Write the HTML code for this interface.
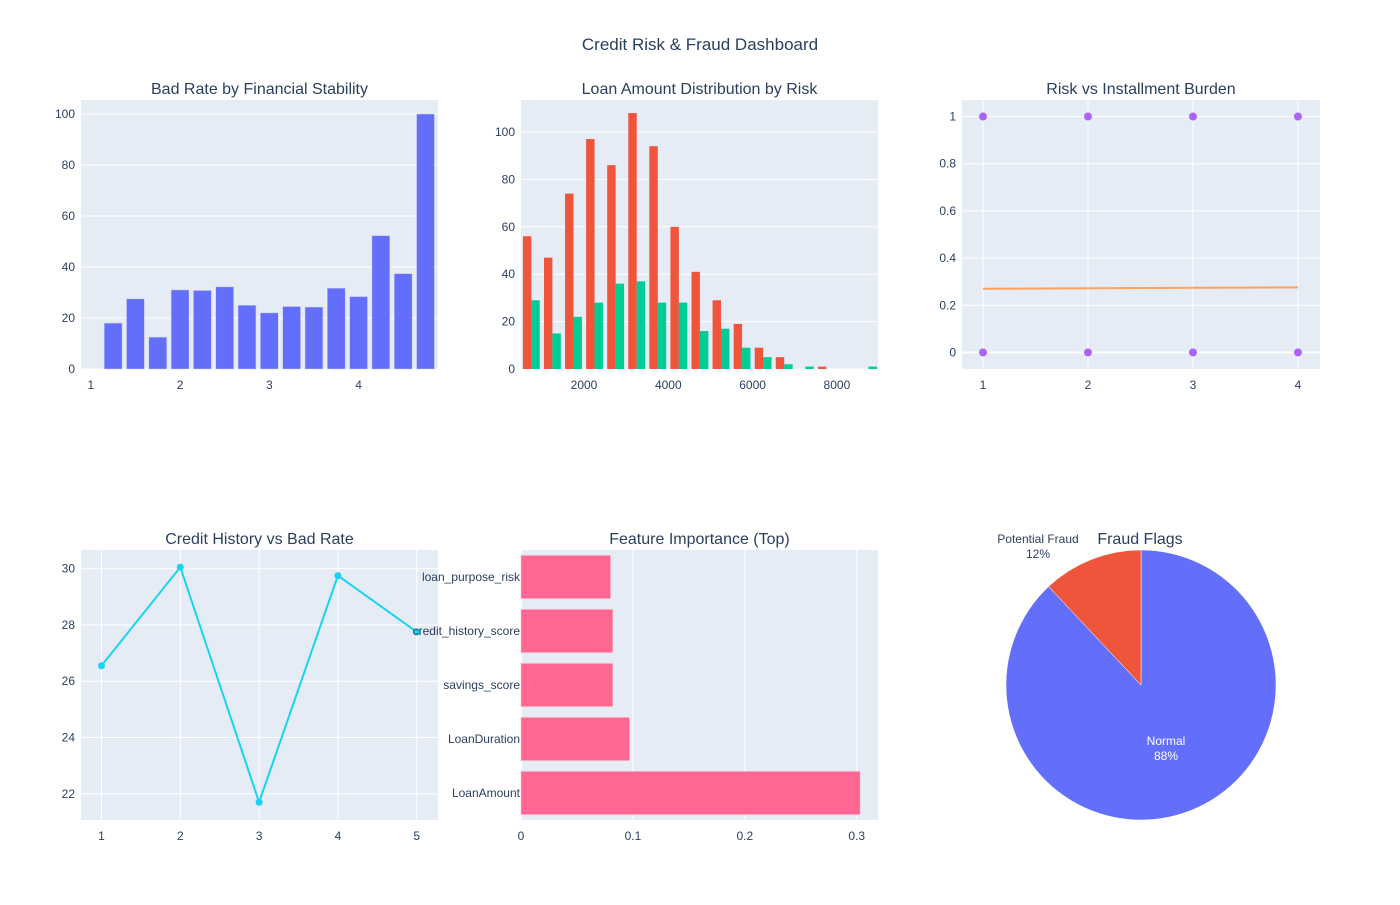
<!DOCTYPE html>
<html><head><meta charset="utf-8"><style>
body{margin:0;background:#fff;font-family:"Liberation Sans",sans-serif;}
svg text{font-family:"Liberation Sans",sans-serif;fill:#2a3f5f;}
</style></head><body>
<svg id="c" width="1400" height="900"></svg>
<script>
// Chart 1: bad rate by financial stability
const stabX=[1.25,1.5,1.75,2,2.25,2.5,2.75,3,3.25,3.5,3.75,4,4.25,4.5,4.75];
const stabRate=[18,27.5,12.5,31,30.8,32.2,25,22,24.5,24.3,31.7,28.4,52.3,37.4,100];
const stabTicksX=[1,2,3,4];
const stabTicksY=[0,20,40,60,80,100];
// Chart 2: loan amount histogram
const binStarts=[500,1000,1500,2000,2500,3000,3500,4000,4500,5000,5500,6000,6500,7000,7500,8000,8500];
const goodCounts=[56,47,74,97,86,108,94,60,41,29,19,9,5,0,1,0,0];
const badCounts=[29,15,22,28,36,37,28,28,16,17,9,5,2,1,0,0,1];
const histTicksX=[2000,4000,6000,8000];
const histTicksY=[0,20,40,60,80,100];
// Chart 3: risk vs installment
const instX=[1,2,3,4,1,2,3,4];
const instRisk=[1,1,1,1,0,0,0,0];
const trendX=[1,4];
const trendY=[0.27,0.276];
const instTicksX=[1,2,3,4];
const instTicksY=[0,0.2,0.4,0.6,0.8,1];
// Chart 4: credit history
const chX=[1,2,3,4,5];
const chRate=[26.55,30.05,21.7,29.75,27.75];
const chTicksY=[22,24,26,28,30];
// Chart 5: feature importance
const featNames=["loan_purpose_risk","credit_history_score","savings_score","LoanDuration","LoanAmount"];
const featVals=[0.080,0.082,0.082,0.097,0.303];
const featTicks=[0,0.1,0.2,0.3];
// Chart 6: pie
const pieLabels=["Normal","Potential Fraud"];
const pieVals=[88,12];

const NS="http://www.w3.org/2000/svg";
const svg=document.getElementById('c');
function el(t,a,p){const e=document.createElementNS(NS,t);for(const k in a)e.setAttribute(k,a[k]);(p||svg).appendChild(e);return e;}
function txt(x,y,s,a,p){const e=el('text',Object.assign({x:x,y:y},a),p);e.textContent=s;return e;}
function lin(d0,d1,r0,r1){return v=>r0+(v-d0)/(d1-d0)*(r1-r0);}

let t=txt(700,50,"Credit Risk & Fraud Dashboard",{'text-anchor':'middle','font-size':17});


function panel(name,x0,x1,y0,y1,title,tx){
  const g=el('g',{});
  
  
  el('rect',{x:x0,y:y0,width:x1-x0,height:y1-y0,fill:'#e5ecf6'},g);
  const tt=txt(tx||(x0+x1)/2,y0-6,title,{'text-anchor':'middle','font-size':16},g);
  
  
  return g;
}
function yGrid(g,ticks,sy,x0,x1,fmt,zeroBold){
  ticks.forEach(v=>{const y=sy(v);
    el('line',{x1:x0,x2:x1,y1:y,y2:y,stroke:'#fff','stroke-width':(zeroBold&&v===0)?2:1},g);
    const l=txt(x0-6,y+4,fmt?fmt(v):String(v),{'text-anchor':'end','font-size':12},g);
    });
}
function xGrid(g,ticks,sx,y0,y1,grid,fmt){
  ticks.forEach(v=>{const x=sx(v);
    if(grid)el('line',{x1:x,x2:x,y1:y0,y2:y1,stroke:'#fff','stroke-width':(grid==='zero'&&v===0)?2:1},g);
    const l=txt(x,y1+20,fmt?fmt(v):String(v),{'text-anchor':'middle','font-size':12},g);
    });
}

// Chart 1
{const x0=81,x1=438,y0=100,y1=369;const g=panel('bad-rate-chart',x0,x1,y0,y1,'Bad Rate by Financial Stability');
const sx=lin(0.89,4.89,x0,x1),sy=lin(0,105.5,y1,y0);
yGrid(g,stabTicksY,sy,x0,x1);xGrid(g,stabTicksX,sx,y0,y1,false);
stabX.forEach((v,i)=>{const w=0.2*(sx(1)-sx(0));const r=el('rect',{x:sx(v)-w/2,y:sy(stabRate[i]),width:w,height:sy(0)-sy(stabRate[i]),fill:'#636efa',stroke:'#c8cdf5','stroke-width':0.5},g);
});}

// Chart 2
{const x0=521,x1=878,y0=100,y1=369;const g=panel('loan-histogram',x0,x1,y0,y1,'Loan Amount Distribution by Risk');
const sx=lin(505,8975,x0,x1),sy=lin(0,113.5,y1,y0);
yGrid(g,histTicksY,sy,x0,x1);xGrid(g,histTicksX,sx,y0,y1,false);
binStarts.forEach((b,i)=>{const bw=sx(b+500)-sx(b);const w=bw*0.4;const gap=bw*0.1;
 if(goodCounts[i]>0){const r=el('rect',{x:sx(b)+gap,y:sy(goodCounts[i]),width:w,height:sy(0)-sy(goodCounts[i]),fill:'#ef553b'},g);
 }
 if(badCounts[i]>0){const r=el('rect',{x:sx(b)+gap+w,y:sy(badCounts[i]),width:w,height:sy(0)-sy(badCounts[i]),fill:'#00cc96'},g);
 }});}

// Chart 3
{const x0=962,x1=1320,y0=100,y1=369;const g=panel('installment-scatter',x0,x1,y0,y1,'Risk vs Installment Burden');
const sx=lin(0.8,4.21,x0,x1),sy=lin(-0.07,1.07,y1,y0);
yGrid(g,instTicksY,sy,x0,x1,null,true);xGrid(g,instTicksX,sx,y0,y1,true);
const tl=el('line',{x1:sx(trendX[0]),x2:sx(trendX[1]),y1:sy(trendY[0]),y2:sy(trendY[1]),stroke:'#ffa15a','stroke-width':2},g);

instX.forEach((v,i)=>{const c=el('circle',{cx:sx(v),cy:sy(instRisk[i]),r:4,fill:'#ab63fa'},g);
});}

// Chart 4
{const x0=81,x1=438,y0=550,y1=820;const g=panel('credit-history-chart',x0,x1,y0,y1,'Credit History vs Bad Rate');
const sx=lin(0.74,5.27,x0,x1),sy=lin(21.07,30.66,y1,y0);
yGrid(g,chTicksY,sy,x0,x1);xGrid(g,chX,sx,y0,y1,true);
const p=el('polyline',{points:chX.map((v,i)=>sx(v)+','+sy(chRate[i])).join(' '),fill:'none',stroke:'#19d3f3','stroke-width':2},g);

chX.forEach((v,i)=>{const c=el('circle',{cx:sx(v),cy:sy(chRate[i]),r:3.5,fill:'#19d3f3'},g);
});}

// Chart 5
{const x0=521,x1=878,y0=550,y1=820;const g=panel('feature-importance-chart',x0,x1,y0,y1,'Feature Importance (Top)');
const sx=lin(0,0.319,x0,x1);const band=(y1-y0)/featNames.length;
xGrid(g,featTicks,sx,y0,y1,'zero');
featNames.forEach((n,i)=>{const yc=y0+band*(i+0.5);
 const r=el('rect',{x:sx(0),y:yc-band*0.4,width:sx(featVals[i])-sx(0),height:band*0.8,fill:'#ff6692',stroke:'#f5c6d4','stroke-width':0.5},g);
 
 const l=txt(x0-1,yc+4,n,{'text-anchor':'end','font-size':12},g);
 });}

// Chart 6
{const g=el('g',{});
const cx=1141,cy=685,R=135;const tot=pieVals.reduce((a,b)=>a+b,0);const cols=['#636efa','#ef553b'];
let a=0;
pieVals.forEach((v,i)=>{const a1=a+v/tot*2*Math.PI;
 const p=(an)=>[cx+R*Math.sin(an),cy-R*Math.cos(an)];const s=p(a),e=p(a1);
 const path=el('path',{d:`M${cx},${cy}L${s[0]},${s[1]}A${R},${R} 0 ${(a1-a)>Math.PI?1:0} 1 ${e[0]},${e[1]}Z`,fill:cols[i],stroke:'#fff','stroke-width':0.5},g);
 
 const pct=Math.round(v/tot*100)+'%';
 if(i===0){const l1=txt(1166,745,pieLabels[i],{'text-anchor':'middle','font-size':12,style:'fill:#fff'},g);
  const l2=txt(1166,760,pct,{'text-anchor':'middle','font-size':12,style:'fill:#fff'},g);
  
  }
 else{const l1=txt(1038,543,pieLabels[i],{'text-anchor':'middle','font-size':12},g);
  const l2=txt(1038,558,pct,{'text-anchor':'middle','font-size':12},g);
  
  }
 a=a1;});
const tt=txt(1140,544,'Fraud Flags',{'text-anchor':'middle','font-size':16},g);
}
</script>
</body></html>
